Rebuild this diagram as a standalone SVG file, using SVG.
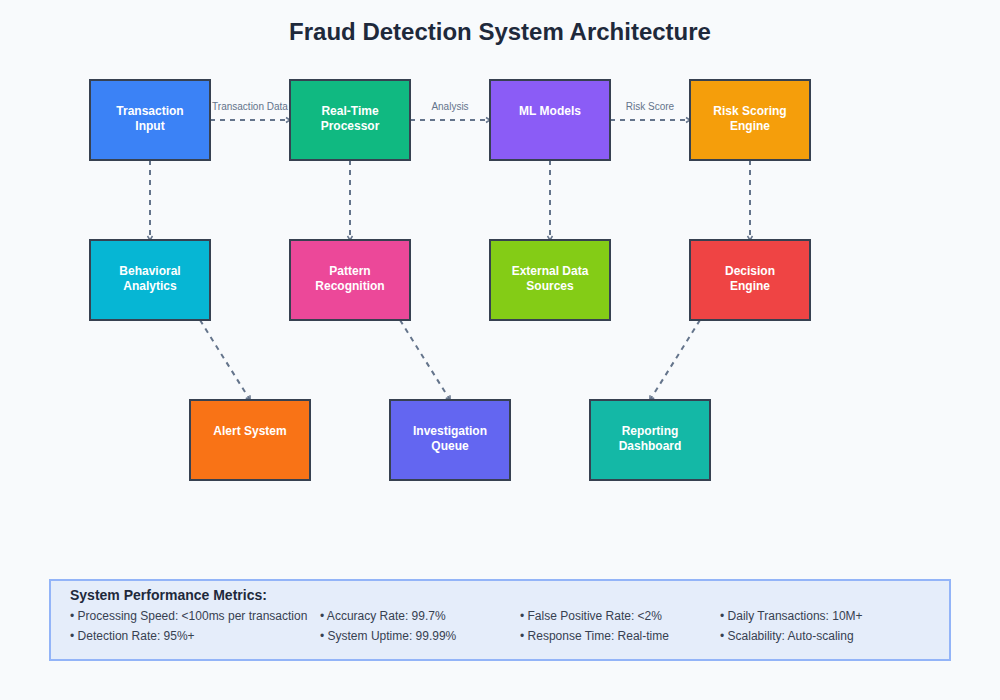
<svg xmlns="http://www.w3.org/2000/svg" width="1000" height="700" viewBox="0 0 1000 700">
<style>
.node{stroke:#374151;stroke-width:2}
.nt{font-family:"Liberation Sans",Arial,sans-serif;font-size:12px;font-weight:bold;fill:#ffffff;text-anchor:middle}
.conn{stroke:#64748b;stroke-width:2;stroke-dasharray:5,5;fill:none}
.el{font-family:"Liberation Sans",Arial,sans-serif;font-size:10px;fill:#64748b;text-anchor:middle}
.mt{font-family:"Liberation Sans",Arial,sans-serif;font-size:12px;fill:#374151}
</style>
<defs>
<marker id="arr" markerWidth="8" markerHeight="8" refX="6" refY="4" orient="auto" markerUnits="userSpaceOnUse">
<path d="M2,1.5 L6,4 L2,6.5" fill="none" stroke="#64748b" stroke-width="1.5"/>
</marker>
</defs>
<rect width="1000" height="700" fill="#f8fafc"/>
<text x="500" y="40" text-anchor="middle" font-family="'Liberation Sans',Arial,sans-serif" font-size="24" font-weight="bold" fill="#1e293b">Fraud Detection System Architecture</text>
<g id="connectors">
<line class="conn" x1="210" y1="120" x2="290" y2="120" marker-end="url(#arr)"/>
<line class="conn" x1="410" y1="120" x2="490" y2="120" marker-end="url(#arr)"/>
<line class="conn" x1="610" y1="120" x2="690" y2="120" marker-end="url(#arr)"/>
<line class="conn" x1="150" y1="160" x2="150" y2="240" marker-end="url(#arr)"/>
<line class="conn" x1="350" y1="160" x2="350" y2="240" marker-end="url(#arr)"/>
<line class="conn" x1="550" y1="160" x2="550" y2="240" marker-end="url(#arr)"/>
<line class="conn" x1="750" y1="160" x2="750" y2="240" marker-end="url(#arr)"/>
<line class="conn" x1="200" y1="320" x2="250" y2="400" marker-end="url(#arr)"/>
<line class="conn" x1="400" y1="320" x2="450" y2="400" marker-end="url(#arr)"/>
<line class="conn" x1="700" y1="320" x2="650" y2="400" marker-end="url(#arr)"/>
<text class="el" x="250" y="110">Transaction Data</text>
<text class="el" x="450" y="110">Analysis</text>
<text class="el" x="650" y="110">Risk Score</text>
</g>
<g id="n1"><rect class="node" x="90" y="80" width="120" height="80" fill="#3b82f6"/><text class="nt" x="150" y="115">Transaction</text><text class="nt" x="150" y="130">Input</text></g>
<g id="n2"><rect class="node" x="290" y="80" width="120" height="80" fill="#10b981"/><text class="nt" x="350" y="115">Real-Time</text><text class="nt" x="350" y="130">Processor</text></g>
<g id="n3"><rect class="node" x="490" y="80" width="120" height="80" fill="#8b5cf6"/><text class="nt" x="550" y="115">ML Models</text></g>
<g id="n4"><rect class="node" x="690" y="80" width="120" height="80" fill="#f59e0b"/><text class="nt" x="750" y="115">Risk Scoring</text><text class="nt" x="750" y="130">Engine</text></g>
<g id="n5"><rect class="node" x="90" y="240" width="120" height="80" fill="#06b6d4"/><text class="nt" x="150" y="275">Behavioral</text><text class="nt" x="150" y="290">Analytics</text></g>
<g id="n6"><rect class="node" x="290" y="240" width="120" height="80" fill="#ec4899"/><text class="nt" x="350" y="275">Pattern</text><text class="nt" x="350" y="290">Recognition</text></g>
<g id="n7"><rect class="node" x="490" y="240" width="120" height="80" fill="#84cc16"/><text class="nt" x="550" y="275">External Data</text><text class="nt" x="550" y="290">Sources</text></g>
<g id="n8"><rect class="node" x="690" y="240" width="120" height="80" fill="#ef4444"/><text class="nt" x="750" y="275">Decision</text><text class="nt" x="750" y="290">Engine</text></g>
<g id="n9"><rect class="node" x="190" y="400" width="120" height="80" fill="#f97316"/><text class="nt" x="250" y="435">Alert System</text></g>
<g id="n10"><rect class="node" x="390" y="400" width="120" height="80" fill="#6366f1"/><text class="nt" x="450" y="435">Investigation</text><text class="nt" x="450" y="450">Queue</text></g>
<g id="n11"><rect class="node" x="590" y="400" width="120" height="80" fill="#14b8a6"/><text class="nt" x="650" y="435">Reporting</text><text class="nt" x="650" y="450">Dashboard</text></g>
<g id="metrics">
<rect x="50" y="580" width="900" height="80" fill="#e5edfa" stroke="#93b4f8" stroke-width="2"/>
<text x="70" y="600" font-family="'Liberation Sans',Arial,sans-serif" font-size="14" font-weight="bold" fill="#1e293b">System Performance Metrics:</text>
<text class="mt" x="70" y="620">• Processing Speed: &lt;100ms per transaction</text>
<text class="mt" x="320" y="620">• Accuracy Rate: 99.7%</text>
<text class="mt" x="520" y="620">• False Positive Rate: &lt;2%</text>
<text class="mt" x="720" y="620">• Daily Transactions: 10M+</text>
<text class="mt" x="70" y="640">• Detection Rate: 95%+</text>
<text class="mt" x="320" y="640">• System Uptime: 99.99%</text>
<text class="mt" x="520" y="640">• Response Time: Real-time</text>
<text class="mt" x="720" y="640">• Scalability: Auto-scaling</text>
</g>
</svg>
